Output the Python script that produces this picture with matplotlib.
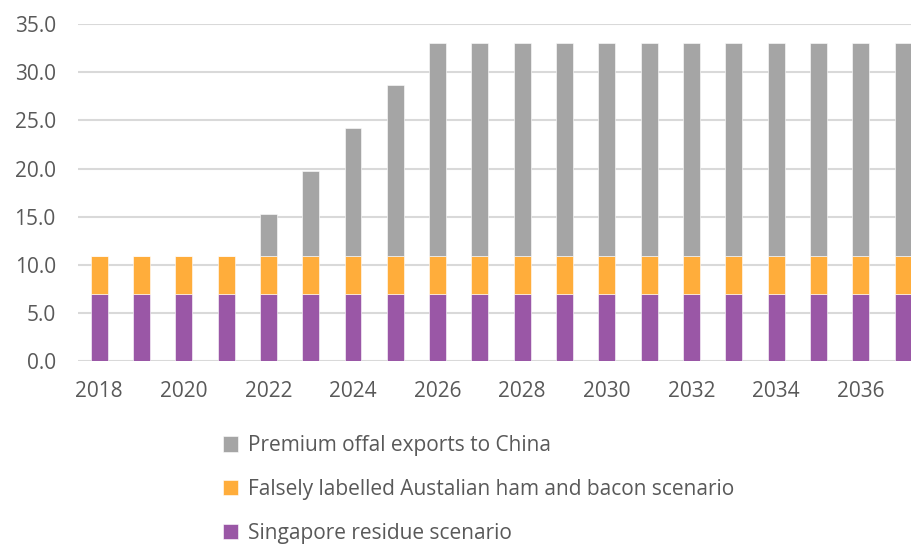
import matplotlib.pyplot as plt
import numpy as np

years = list(range(2018, 2038))
singapore = [7.0] * 20
falsely = [3.9] * 20
premium = [0, 0, 0, 0, 4.43, 8.86, 13.29, 17.72] + [22.15] * 12

labels = ['Singapore residue scenario',
          'Falsely labelled Austalian ham and bacon scenario',
          'Premium offal exports to China']
colors = ['#9a57a6', '#ffad3b', '#a5a5a5']

plt.rcParams['font.family'] = ['Open Sans', 'DejaVu Sans']
text_color = '#595959'

fig = plt.figure(figsize=(9.11, 5.46), dpi=100)
ax = fig.add_axes([0.0856, 0.3383, 0.9144, 0.6178])

x = np.array(years)
width = 0.4
bottom = np.zeros(len(years))
handles = []
for vals, lab, col in zip([singapore, falsely, premium], labels, colors):
    b = ax.bar(x, vals, width, bottom=bottom, color=col, label=lab,
               edgecolor='white', linewidth=0.4, zorder=3)
    handles.append(b)
    bottom += np.array(vals)

ax.set_ylim(0, 35)
ax.set_xlim(2017.5, 2037.19)
ax.set_yticks(np.arange(0, 36, 5))
ax.set_yticklabels([f'{v:.1f}' for v in np.arange(0, 36, 5)])
ax.set_xticks(years[::2])
ax.set_xticklabels([str(y) for y in years[::2]])
ax.tick_params(axis='both', length=0, colors=text_color, labelsize=15)
ax.tick_params(axis='y', pad=16)
ax.tick_params(axis='x', pad=14)
ax.grid(axis='y', color='#d9d9d9', linewidth=1.5, zorder=0)
for s in ax.spines.values():
    s.set_visible(False)

fig.legend(handles[::-1], labels[::-1], loc='upper left',
           bbox_to_anchor=(0.233, 0.222), frameon=False, fontsize=15,
           labelcolor=text_color, handlelength=0.75, handleheight=0.75,
           handletextpad=0.45, labelspacing=1.1, borderpad=0)

fig.savefig('out.png', dpi=100)
